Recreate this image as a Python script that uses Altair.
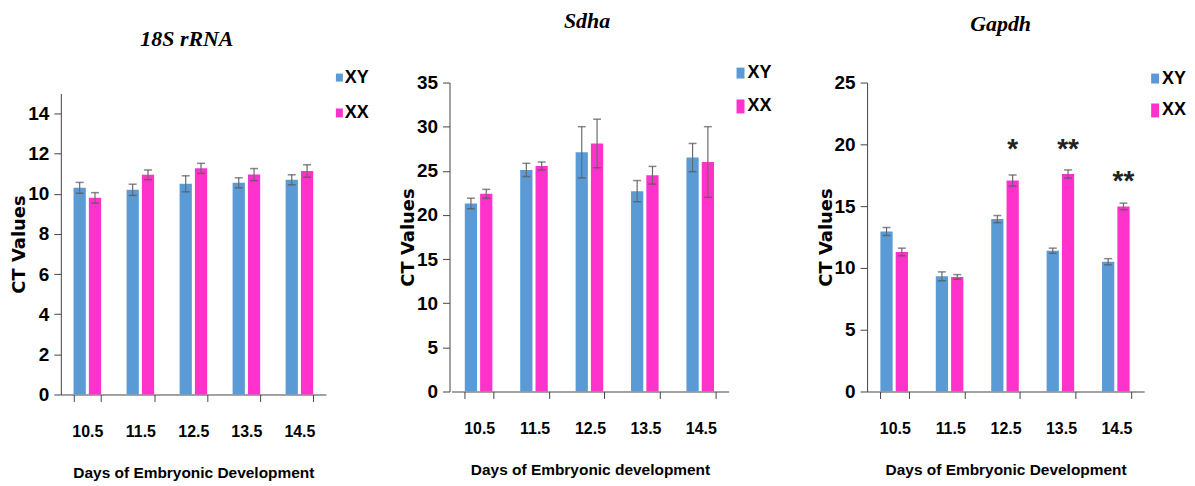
import altair as alt
import pandas as pd

# ---------------- data ----------------
days = ["10.5", "11.5", "12.5", "13.5", "14.5"]
sexes = ["XY", "XX"]
colors = ["#5B9BD5", "#FF33CC"]

titles = ["18S rRNA", "Sdha", "Gapdh"]
x_titles = ["Days of Embryonic Development",
            "Days of Embryonic development",
            "Days of Embryonic Development"]
y_title = "CT Values"

rrna_xy = [10.30, 10.20, 10.50, 10.55, 10.70]
rrna_xy_err = [0.27, 0.28, 0.40, 0.25, 0.25]
rrna_xx = [9.80, 10.95, 11.27, 10.96, 11.14]
rrna_xx_err = [0.26, 0.24, 0.25, 0.30, 0.31]

sdha_xy = [21.3, 25.1, 27.1, 22.7, 26.5]
sdha_xy_err = [0.6, 0.75, 2.9, 1.2, 1.6]
sdha_xx = [22.4, 25.55, 28.1, 24.5, 26.0]
sdha_xx_err = [0.5, 0.45, 2.75, 1.0, 4.0]

gapdh_xy = [12.95, 9.32, 13.95, 11.39, 10.50]
gapdh_xy_err = [0.32, 0.36, 0.29, 0.21, 0.25]
gapdh_xx = [11.29, 9.27, 17.07, 17.60, 14.97]
gapdh_xx_err = [0.31, 0.19, 0.45, 0.33, 0.27]

star_days = ["12.5", "13.5", "14.5"]
star_labels = ["*", "**", "**"]
star_y = [19.9, 19.9, 17.3]

y_domains = [[0, 15], [0, 35], [0, 25]]
y_ticks = [[0, 2, 4, 6, 8, 10, 12, 14],
           [0, 5, 10, 15, 20, 25, 30, 35],
           [0, 5, 10, 15, 20, 25]]

# ---------------- style / layout ----------------
SANS = "Liberation Sans, Arial, sans-serif"
layouts = [
    dict(w=266, h=313, xr=[0, 266], yr=[313, 11],
         title=(126.5, -37),
         leg_rect=[(276, 283, -9, -1), (276, 283, 26, 35)],
         leg_text=[(285, -5), (285, 30.5)], leg_size=18),
    dict(w=295, h=310, xr=[2, 280], yr=[310, 0],
         title=(138, -55),
         leg_rect=[(288, 296, -15, -4), (288, 296, 17, 31)],
         leg_text=[(299, -9.5), (299, 23.5)], leg_size=18),
    dict(w=278, h=310, xr=[0, 278], yr=[310, 0],
         title=(134, -52),
         leg_rect=[(285, 293, -9, 1), (285, 293, 21, 35)],
         leg_text=[(296, -4), (296, 27.5)], leg_size=18),
]


def panel(i, xy, xy_err, xx, xx_err, stars=None):
    L = layouts[i]
    df = pd.DataFrame({
        "day": days * 2,
        "sex": [sexes[0]] * len(days) + [sexes[1]] * len(days),
        "ct": xy + xx,
        "err": xy_err + xx_err,
    })
    df["lo"] = df["ct"] - df["err"]
    df["hi"] = df["ct"] + df["err"]

    xenc = alt.X(
        "day:N", sort=days,
        scale=alt.Scale(domain=days, range=L["xr"], paddingInner=0.48, paddingOuter=0.24),
        axis=alt.Axis(title=x_titles[i], labelAngle=0, tickBand="extent", tickSize=7,
                      labelPadding=22, titleY=83, titleBaseline="alphabetic",
                      labelFontSize=16, titleFontSize=15.5),
    )
    xoff = alt.XOffset("sex:N", sort=sexes,
                       scale=alt.Scale(domain=sexes, paddingInner=0.2, paddingOuter=0))
    yscale = alt.Scale(domain=y_domains[i], range=L["yr"], nice=False, zero=True)
    yaxis = alt.Axis(title=y_title, values=y_ticks[i], tickSize=7, labelPadding=5,
                     titleX=-41, titleY=(L["yr"][0] + L["yr"][1]) / 2,
                     titleBaseline="middle", labelFontSize=19)

    base = alt.Chart(df)
    bars = base.mark_bar().encode(
        x=xenc, xOffset=xoff,
        y=alt.Y("ct:Q", scale=yscale, axis=yaxis),
        color=alt.Color("sex:N", scale=alt.Scale(domain=sexes, range=colors), legend=None),
    )
    rules = base.mark_rule(color="#6a6a6a", strokeWidth=1.2).encode(
        x=xenc, xOffset=xoff,
        y=alt.Y("lo:Q", scale=yscale, axis=yaxis), y2="hi:Q",
    )
    caps_hi = base.mark_tick(color="#555555", size=8, thickness=1.5).encode(
        x=xenc, xOffset=xoff, y=alt.Y("hi:Q", scale=yscale, axis=yaxis))
    caps_lo = base.mark_tick(color="#555555", size=8, thickness=1.5).encode(
        x=xenc, xOffset=xoff, y=alt.Y("lo:Q", scale=yscale, axis=yaxis))

    layers = [bars, rules, caps_hi, caps_lo]

    if stars is not None:
        sdf = pd.DataFrame({"day": stars[0], "sex": [sexes[1]] * len(stars[0]),
                            "label": stars[1], "sy": stars[2]})
        layers.append(
            alt.Chart(sdf).mark_text(font=SANS, fontWeight="bold", fontSize=28,
                                     baseline="middle", dy=4, color="#222222").encode(
                x=xenc, xOffset=xoff,
                y=alt.Y("sy:Q", scale=yscale, axis=yaxis),
                text="label:N")
        )

    # title
    tdf = pd.DataFrame({"t": [titles[i]]})
    layers.append(
        alt.Chart(tdf).mark_text(font="Liberation Serif", fontStyle="italic", fontWeight="bold",
                                 fontSize=22, align="center", baseline="alphabetic",
                                 color="black").encode(
            x=alt.value(L["title"][0]), y=alt.value(L["title"][1]), text="t:N")
    )
    # custom legend
    for k, s in enumerate(sexes):
        x1, x2, y1, y2 = L["leg_rect"][k]
        ldf = pd.DataFrame({"s": [s]})
        layers.append(
            alt.Chart(ldf).mark_rect(color=colors[k]).encode(
                x=alt.value(x1), x2=alt.value(x2), y=alt.value(y1), y2=alt.value(y2))
        )
        tx, ty = L["leg_text"][k]
        layers.append(
            alt.Chart(ldf).mark_text(font=SANS, fontWeight="bold", fontSize=L["leg_size"],
                                     align="left", baseline="middle", color="black").encode(
                x=alt.value(tx), y=alt.value(ty), text="s:N")
        )

    return alt.layer(*layers).properties(width=L["w"], height=L["h"])


p1 = panel(0, rrna_xy, rrna_xy_err, rrna_xx, rrna_xx_err)
p2 = panel(1, sdha_xy, sdha_xy_err, sdha_xx, sdha_xx_err)
p3 = panel(2, gapdh_xy, gapdh_xy_err, gapdh_xx, gapdh_xx_err,
           stars=(star_days, star_labels, star_y))

chart = alt.hconcat(p1, p2, p3, spacing=124, bounds="flush").properties(
    padding={"left": 3, "top": 1, "right": 0, "bottom": 0}
).configure_view(stroke=None).configure_axis(
    grid=False, domainColor="#444444", tickColor="#444444", domainWidth=1, tickWidth=1,
    labelColor="black", titleColor="black",
    labelFont=SANS, labelFontWeight="bold",
).configure_axisX(
    titleFont=SANS, titleFontWeight="bold",
).configure_axisY(
    titleFont="DejaVu Sans", titleFontWeight="bold", titleFontSize=18,
)

chart.save("out.html", embed_options={"renderer": "svg", "actions": False})
